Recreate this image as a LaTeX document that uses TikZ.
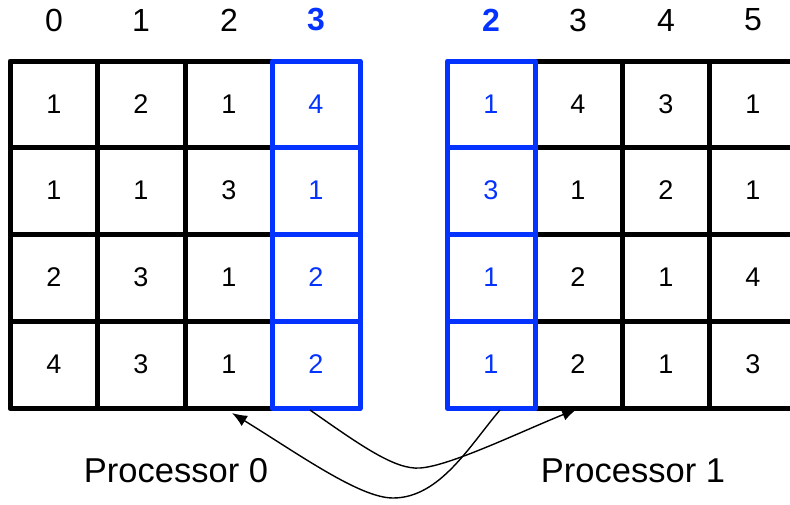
\documentclass[tikz,border=0pt]{standalone}
\usepackage{fontspec}
\setmainfont{Liberation Sans}
\usetikzlibrary{arrows.meta}
\definecolor{pblue}{RGB}{4,51,255}
\begin{document}
\begin{tikzpicture}[x=1pt,y=-1pt,
  gridline/.style={line width=5pt, line join=round, line cap=butt},
  cellnum/.style={font=\fontsize{27}{30}\selectfont, inner sep=0pt},
  hdr/.style={font=\fontsize{32}{36}\selectfont, inner sep=0pt},
  hdrblue/.style={hdr, font=\fontsize{32}{36}\selectfont\bfseries, text=pblue},
  plabel/.style={font=\fontsize{34.5}{38}\selectfont, inner sep=0pt},
  xfer/.style={line width=1.4pt, -{Latex[length=15pt,width=12pt]}}]
\useasboundingbox (0,0) rectangle (790,504);
% left grid (black)
\draw[gridline] (272.5,61) -- (10,61) -- (10,408.5) -- (272.5,408.5);
\foreach \y in {147,234,321} \draw[gridline] (10,\y) -- (272.5,\y);
\foreach \x in {97.5,185} \draw[gridline] (\x,61) -- (\x,408.5);
% right grid (black)
\foreach \y in {61,147,234,321,408.5} \draw[gridline] (535,\y) -- (795,\y);
\foreach \x in {622,709.5} \draw[gridline] (\x,61) -- (\x,408.5);
% blue columns
\draw[gridline, pblue] (272.5,61) rectangle (360,408.5);
\foreach \y in {147,234,321} \draw[gridline, pblue] (272.5,\y) -- (360,\y);
\draw[gridline, pblue] (447.5,61) rectangle (535,408.5);
\foreach \y in {147,234,321} \draw[gridline, pblue] (447.5,\y) -- (535,\y);
% headers
\node[hdr] (h0) at (54,20) {0};
\node[hdr] (h1) at (141,20) {1};
\node[hdr] (h2) at (229,20) {2};
\node[hdrblue] (h3) at (316,20) {3};
\node[hdrblue] (k2) at (491,20) {2};
\node[hdr] (k3) at (578,20) {3};
\node[hdr] (k4) at (666,20) {4};
\node[hdr] (k5) at (753,20) {5};
% left cells
\foreach \r/\y/\a/\b/\c/\d in {1/104/1/2/1/4, 2/190.5/1/1/3/1, 3/277.5/2/3/1/2, 4/364.5/4/3/1/2}{
  \node[cellnum] (L\r-0) at (54,\y) {\a};
  \node[cellnum] (L\r-1) at (141,\y) {\b};
  \node[cellnum] (L\r-2) at (229,\y) {\c};
  \node[cellnum, text=pblue] (L\r-3) at (316,\y) {\d};
}
% right cells
\foreach \r/\y/\a/\b/\c/\d in {1/104/1/4/3/1, 2/190.5/3/1/2/1, 3/277.5/1/2/1/4, 4/364.5/1/2/1/3}{
  \node[cellnum, text=pblue] (R\r-2) at (491,\y) {\a};
  \node[cellnum] (R\r-3) at (578,\y) {\b};
  \node[cellnum] (R\r-4) at (666,\y) {\c};
  \node[cellnum] (R\r-5) at (753,\y) {\d};
}
% processor labels
\node[plabel] (p0) at (176,471) {Processor 0};
\node[plabel] (p1) at (633,471) {Processor 1};
% transfer arrows
\coordinate (s0) at (310,410);
\coordinate (t0) at (577,409);
\coordinate (s1) at (500,410);
\coordinate (t1) at (232,413);
\draw[xfer] (s0) .. controls (360,445) and (395,470) .. (420,468)
  .. controls (450,466) and (520,432) .. (t0);
\draw[xfer] (s1) .. controls (470,445) and (440,498) .. (393,498)
  .. controls (360,498) and (300,455) .. (t1);
\end{tikzpicture}
\end{document}
